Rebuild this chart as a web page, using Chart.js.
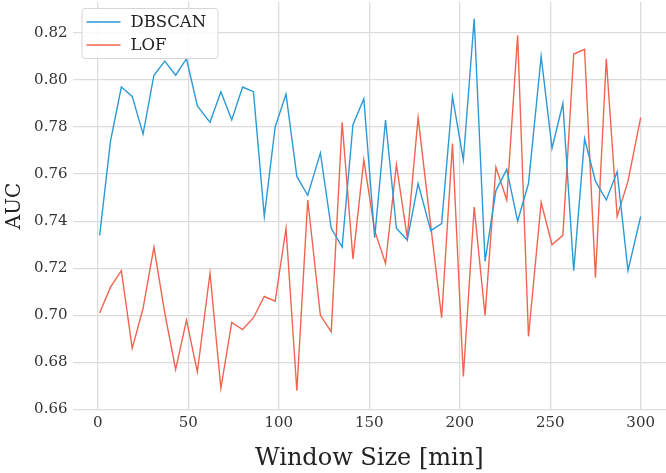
<!DOCTYPE html>
<html lang="en">
<head>
  <meta charset="UTF-8">
  <title>AUC vs Window Size</title>
  <style>
    body {
      margin: 0;
      padding: 0;
      background-color: #fff;
    }
    #chart-container {
      width: 666px;
      height: 473px;
    }
    canvas {
      display: block;
    }
  </style>
  <script src="https://cdn.jsdelivr.net/npm/chart.js"></script>
</head>
<body>
  <div id="chart-container">
    <canvas id="aucChart" width="666" height="473"></canvas>
  </div>
  <script>
    // window sizes (minutes)
    const windowSizes = [1, 7, 13, 19, 25, 31, 37, 43, 49, 55, 62, 68, 74, 80, 86, 92, 98, 104, 110, 116,
      123, 129, 135, 141, 147, 153, 159, 165, 171, 177, 184, 190, 196, 202, 208, 214, 220, 226, 232, 238,
      245, 251, 257, 263, 269, 275, 281, 287, 293, 300];

    const dbscanAuc = [0.734, 0.774, 0.797, 0.793, 0.777, 0.802, 0.808, 0.802, 0.809, 0.789,
      0.782, 0.795, 0.783, 0.797, 0.795, 0.742, 0.780, 0.794, 0.759, 0.751,
      0.769, 0.737, 0.729, 0.781, 0.792, 0.733, 0.783, 0.737, 0.732, 0.756,
      0.736, 0.739, 0.793, 0.766, 0.826, 0.723, 0.753, 0.762, 0.740, 0.756,
      0.810, 0.771, 0.790, 0.719, 0.775, 0.757, 0.749, 0.761, 0.719, 0.742];

    const lofAuc = [0.701, 0.712, 0.719, 0.686, 0.703, 0.729, 0.701, 0.677, 0.698, 0.676,
      0.718, 0.669, 0.697, 0.694, 0.699, 0.708, 0.706, 0.737, 0.668, 0.749,
      0.700, 0.693, 0.782, 0.724, 0.766, 0.736, 0.722, 0.764, 0.733, 0.784,
      0.738, 0.699, 0.773, 0.674, 0.746, 0.700, 0.763, 0.749, 0.819, 0.691,
      0.748, 0.730, 0.734, 0.811, 0.813, 0.716, 0.809, 0.742, 0.757, 0.784];

    const xTicks = [0, 50, 100, 150, 200, 250, 300];
    const yTicks = [0.66, 0.68, 0.70, 0.72, 0.74, 0.76, 0.78, 0.80, 0.82];

    const blue = '#2b9ad6';
    const red = '#f2644f';
    const serif = "'DejaVu Serif', serif";

    const toPoints = (xs, ys) => xs.map((x, i) => ({ x: x, y: ys[i] }));

    // legend box drawn inside the plot, top-left
    const insideLegend = {
      id: 'insideLegend',
      afterDatasetsDraw(chart) {
        const ctx = chart.ctx;
        const area = chart.chartArea;
        const x0 = area.left + 9;
        const y0 = area.top + 6;
        const w = 136;
        const h = 50;
        ctx.save();
        ctx.fillStyle = 'rgba(255,255,255,0.85)';
        ctx.strokeStyle = '#d6d6d6';
        ctx.lineWidth = 1;
        ctx.beginPath();
        ctx.roundRect(x0 + 0.5, y0 + 0.5, w, h, 3);
        ctx.fill();
        ctx.stroke();
        ctx.font = '16.5px ' + serif;
        ctx.textBaseline = 'middle';
        chart.data.datasets.forEach((ds, i) => {
          const ly = y0 + 14 + i * 23;
          ctx.strokeStyle = ds.borderColor;
          ctx.lineWidth = 1.5;
          ctx.beginPath();
          ctx.moveTo(x0 + 5, ly);
          ctx.lineTo(x0 + 39, ly);
          ctx.stroke();
          ctx.fillStyle = '#222';
          ctx.fillText(ds.label, x0 + 49, ly + 1);
        });
        ctx.restore();
      }
    };

    const ctx = document.getElementById('aucChart').getContext('2d');
    const aucChart = new Chart(ctx, {
      type: 'line',
      data: {
        datasets: [
          {
            label: 'DBSCAN',
            data: toPoints(windowSizes, dbscanAuc),
            borderColor: blue,
            backgroundColor: blue,
            borderWidth: 1.4,
            pointRadius: 0,
            fill: false,
            tension: 0,
          },
          {
            label: 'LOF',
            data: toPoints(windowSizes, lofAuc),
            borderColor: red,
            backgroundColor: red,
            borderWidth: 1.4,
            pointRadius: 0,
            fill: false,
            tension: 0,
          },
        ],
      },
      options: {
        responsive: false,
        animation: false,
        layout: { padding: { top: 2, right: 0, bottom: 0, left: 0 } },
        plugins: {
          legend: { display: false },
          tooltip: { enabled: false },
        },
        scales: {
          x: {
            type: 'linear',
            min: -14,
            max: 314,
            afterBuildTicks: (scale) => { scale.ticks = xTicks.map(v => ({ value: v })); },
            afterFit: (scale) => {
              scale.height = 63;
              scale.paddingLeft = 0;
              scale.paddingRight = 0;
            },
            border: { display: false },
            grid: { color: '#dcdcdc', lineWidth: 1.3, drawTicks: false },
            ticks: {
              padding: 4,
              color: '#333',
              font: { family: serif, size: 15 },
              maxRotation: 0,
            },
            title: {
              display: true,
              text: 'Window Size [min]',
              color: '#222',
              font: { family: serif, size: 24 },
              padding: { top: 0, bottom: 0 },
            },
          },
          y: {
            min: 0.6598,
            max: 0.8331,
            afterBuildTicks: (scale) => { scale.ticks = yTicks.map(v => ({ value: v })); },
            afterFit: (scale) => {
              scale.width = 72.5;
              scale.paddingTop = 0;
              scale.paddingBottom = 0;
            },
            border: { display: false },
            grid: { color: '#dcdcdc', lineWidth: 1.3, drawTicks: false },
            ticks: {
              padding: 5,
              color: '#333',
              font: { family: serif, size: 15 },
              callback: (v) => v.toFixed(2),
            },
            title: {
              display: true,
              text: 'AUC',
              color: '#222',
              font: { family: serif, size: 20 },
              padding: { top: 3, bottom: 0 },
            },
          },
        },
      },
      plugins: [insideLegend],
    });
  </script>
</body>
</html>
